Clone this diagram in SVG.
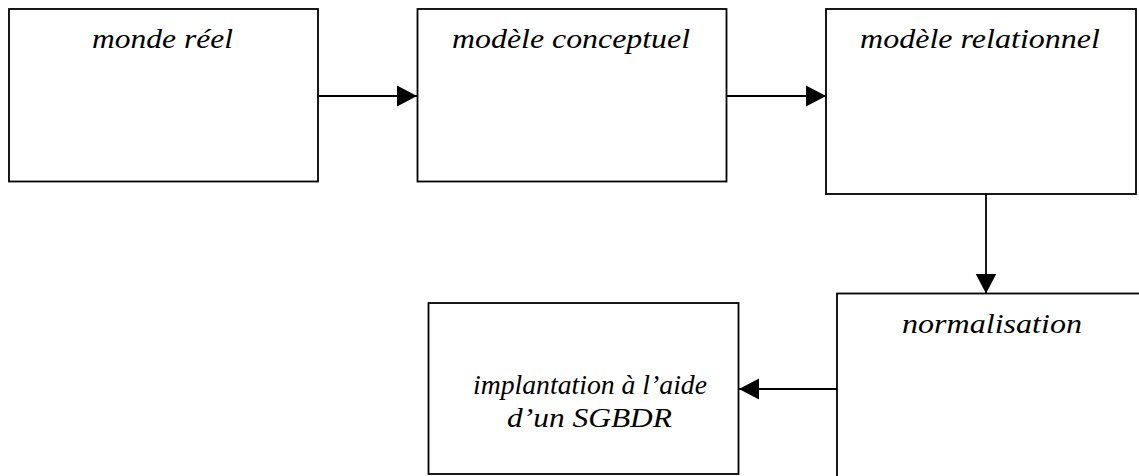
<svg xmlns="http://www.w3.org/2000/svg" width="1139" height="476" viewBox="0 0 1139 476">
<style>
.box{fill:#fff;stroke:#000;stroke-width:1.8}
.lbl{font-family:"Liberation Serif","Times New Roman",serif;font-style:italic;font-size:27px;fill:#000}
.conn line{stroke:#000;stroke-width:1.8}
</style>
<defs>
<marker id="ah" markerUnits="userSpaceOnUse" markerWidth="22" markerHeight="22" refX="20" refY="11" orient="auto">
<path d="M0,0.5 L20,11 L0,21.5 Z" fill="#000"/>
</marker>
</defs>
<rect width="1139" height="476" fill="#fff"/>
<g id="monde-reel">
<rect class="box" x="9" y="9" width="309" height="172.5"/>
<text class="lbl" x="92" y="48" textLength="141" lengthAdjust="spacingAndGlyphs">monde réel</text>
</g>
<g id="modele-conceptuel">
<rect class="box" x="417.5" y="9" width="309" height="172.5"/>
<text class="lbl" x="452" y="48" textLength="238" lengthAdjust="spacingAndGlyphs">modèle conceptuel</text>
</g>
<g id="modele-relationnel">
<rect class="box" x="826" y="9" width="310" height="185"/>
<text class="lbl" x="860" y="48" textLength="240" lengthAdjust="spacingAndGlyphs">modèle relationnel</text>
</g>
<g id="normalisation">
<rect class="box" x="837" y="293.5" width="320" height="200"/>
<text class="lbl" x="902" y="333" textLength="180" lengthAdjust="spacingAndGlyphs">normalisation</text>
</g>
<g id="implantation">
<rect class="box" x="428.5" y="303" width="310" height="171"/>
<text class="lbl" x="473" y="394" textLength="234" lengthAdjust="spacingAndGlyphs">implantation à l’aide</text>
<text class="lbl" x="507" y="427" textLength="165" lengthAdjust="spacingAndGlyphs">d’un SGBDR</text>
</g>
<g id="connectors" class="conn">
<line x1="318" y1="96" x2="417" y2="96" marker-end="url(#ah)"/>
<line x1="727" y1="96" x2="826" y2="96" marker-end="url(#ah)"/>
<line x1="986" y1="194" x2="986" y2="293.5" marker-end="url(#ah)"/>
<line x1="837" y1="389" x2="739" y2="389" marker-end="url(#ah)"/>
</g>
</svg>
